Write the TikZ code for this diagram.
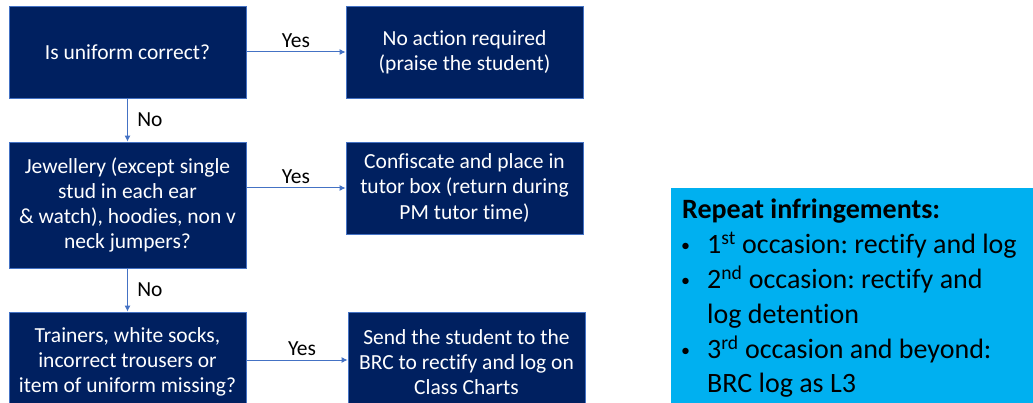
\documentclass[tikz,border=0pt]{standalone}
\usepackage{fontspec}
\setmainfont{Carlito}[Ligatures=NoCommon]
\usetikzlibrary{arrows.meta}
\definecolor{navy}{HTML}{002060}
\definecolor{edgeblue}{HTML}{4472C4}
\definecolor{skyblue}{HTML}{00B0F0}
\tikzset{
  stepbox/.style={draw=edgeblue, line width=0.8pt, fill=navy, text=white, align=center,
    minimum width=237pt, inner sep=1pt, font=\fontsize{21.5}{25.2}\selectfont},
  conn/.style={draw=edgeblue, line width=1pt, -{Latex[length=6pt,width=6pt]}},
  lbl/.style={font=\fontsize{21.5}{24}\selectfont, text=black}
}
\newcommand{\bul}{\makebox[25pt][l]{\hspace{-1pt}\raisebox{2pt}{\fontsize{18}{18}\selectfont•}}}
\begin{document}
\begin{tikzpicture}[x=1pt,y=-1pt]
\useasboundingbox (0,0) rectangle (1033,403);
\clip (0,0) rectangle (1033,403);
\node[stepbox, minimum height=92pt] (q1) at (127.5,52) {Is uniform correct?};
\node[stepbox, minimum height=92pt] (a1) at (464.5,52) {No action required\\(praise the student)};
\node[stepbox, minimum height=126pt] (q2) at (127.5,205) {Jewellery (except single\\stud in each ear\\\& watch), hoodies, non v\\neck jumpers?};
\node[stepbox, minimum height=92pt] (a2) at (464.5,188) {Confiscate and place in\\tutor box (return during\\PM tutor time)};
\node[stepbox, minimum height=100pt] (q3) at (127.5,362) {Trainers, white socks,\\incorrect trousers or\\item of uniform missing?};
\node[stepbox, minimum height=100pt] (a3) at (466.5,362) {Send the student to the\\BRC to rectify and log on\\Class Charts};
\draw[conn] (q1.east) -- (a1.west) node[lbl, midway, above=1pt] (y1) {Yes};
\draw[conn] (q2.east |- a2.center) -- (a2.west) node[lbl, midway, above=1pt] (y2) {Yes};
\draw[conn] (q3.east |- 0,360) -- (a3.west |- 0,360) node[lbl, pos=0.55, above=1pt] (y3) {Yes};
\draw[conn] (q1.south) -- (q2.north) node[lbl, midway, right=6pt] (n1) {No};
\draw[conn] (q2.south) -- (q3.north) node[lbl, midway, right=6pt] (n2) {No};
\node[fill=skyblue, anchor=north west, minimum width=400pt, minimum height=240pt] (rep) at (671,188) {};
\node[anchor=north west, align=left, inner sep=0pt,
  font=\fontsize{28}{34.8}\selectfont\frenchspacing] (reptext) at (682,199)
  {\textbf{Repeat infringements:}\\
   \bul 1\textsuperscript{st} occasion: rectify and log\\
   \bul 2\textsuperscript{nd} occasion: rectify and\\
   \hspace*{25pt}log detention\\
   \bul 3\textsuperscript{rd} occasion and beyond:\\
   \hspace*{25pt}BRC log as L3};
\end{tikzpicture}
\end{document}
